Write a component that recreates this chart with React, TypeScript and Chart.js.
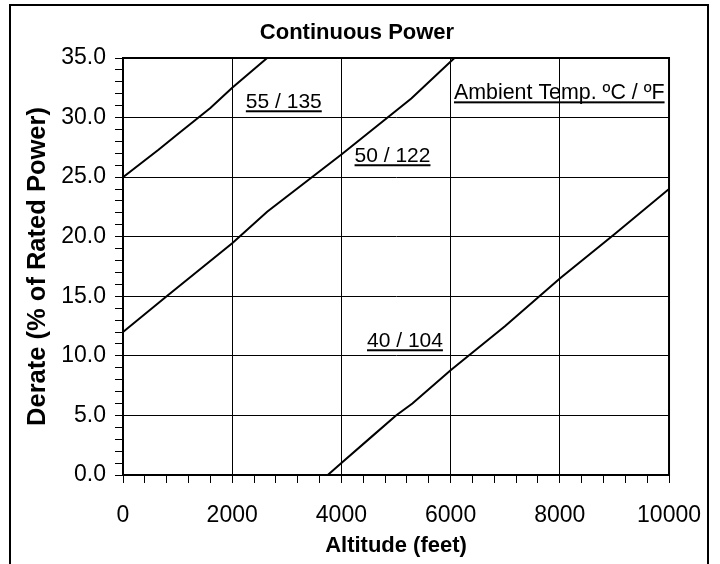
import React, { useEffect, useRef } from 'react';
import { Chart, registerables } from 'chart.js';

Chart.register(...registerables);

// ---- data ----
const CHART_TITLE = 'Continuous Power';
const X_TITLE = 'Altitude (feet)';
const Y_TITLE = 'Derate (% of Rated Power)';
const LEGEND_TITLE = 'Ambient Temp. ºC / ºF';

const SERIES_NAMES = ['55 / 135', '50 / 122', '40 / 104'];

const ALT_55 = [0, 650, 1000, 1600, 2000, 2640];
const DER_55 = [25.0, 27.3, 28.6, 30.8, 32.5, 35.0];

const ALT_50 = [0, 800, 2000, 2640, 4000, 5280, 6070];
const DER_50 = [12.0, 15.0, 19.45, 22.1, 26.9, 31.6, 35.0];

const ALT_40 = [3750, 4000, 4550, 5000, 5300, 6000, 7000, 8000, 9000, 10000];
const DER_40 = [0.0, 1.0, 3.2, 5.0, 6.0, 8.8, 12.5, 16.5, 20.2, 24.0];

// label anchors in data units (altitude, derate at text baseline)
const LABEL_ALT = [2945, 4936, 5164];
const LABEL_DER = [30.78, 26.25, 10.72];
const LEGEND_ALT = 7990;
const LEGEND_DER = 31.53;

const X_MIN = 0;
const X_MAX = 10000;
const X_MAJOR = 2000;
const X_MINOR = 400;
const Y_MIN = 0;
const Y_MAX = 35;
const Y_MAJOR = 5;
const Y_MINOR = 1;

const FONT = '"Liberation Sans", Arial, Helvetica, sans-serif';

function toPoints(xs: number[], ys: number[]) {
  return xs.map((x, i) => ({ x, y: ys[i] }));
}

const decorPlugin = {
  id: 'decor',
  beforeDraw(chart: any) {
    const ctx = chart.ctx;
    ctx.save();
    ctx.fillStyle = '#ffffff';
    ctx.fillRect(0, 0, chart.width, chart.height);
    ctx.restore();
  },
  afterDraw(chart: any) {
    const ctx = chart.ctx;
    const { left, right, top, bottom } = chart.chartArea;
    const xs = chart.scales.x;
    const ys = chart.scales.y;
    ctx.save();
    // plot frame
    ctx.strokeStyle = '#000';
    ctx.lineWidth = 2;
    ctx.strokeRect(left, top, right - left, bottom - top);
    // outer border
    ctx.lineWidth = 2;
    ctx.beginPath();
    ctx.moveTo(10, chart.height + 2);
    ctx.lineTo(10, 5);
    ctx.lineTo(708, 5);
    ctx.lineTo(708, chart.height + 2);
    ctx.stroke();
    // title
    ctx.fillStyle = '#000';
    ctx.textAlign = 'center';
    ctx.textBaseline = 'alphabetic';
    ctx.font = `bold 22px ${FONT}`;
    ctx.fillText(CHART_TITLE, 357, 39);
    // series labels
    ctx.font = `21px ${FONT}`;
    const drawUnderlined = (text: string, px: number, py: number) => {
      const w = ctx.measureText(text).width;
      ctx.fillText(text, px, py);
      ctx.fillRect(px - w / 2, py + 2, w, 2);
    };
    SERIES_NAMES.forEach((name, i) => {
      drawUnderlined(name, xs.getPixelForValue(LABEL_ALT[i]), ys.getPixelForValue(LABEL_DER[i]));
    });
    ctx.font = `21.4px ${FONT}`;
    drawUnderlined(LEGEND_TITLE, xs.getPixelForValue(LEGEND_ALT), ys.getPixelForValue(LEGEND_DER));
    ctx.restore();
  },
};

export default function App() {
  const ref = useRef<HTMLCanvasElement | null>(null);
  useEffect(() => {
    if (!ref.current) return;
    const lineDs = (label: string, xs: number[], ys: number[]) => ({
      label,
      data: toPoints(xs, ys),
      borderColor: '#000',
      backgroundColor: '#000',
      borderWidth: 2,
      pointRadius: 0,
      tension: 0,
      fill: false,
    });
    const chart = new Chart(ref.current, {
      type: 'line',
      data: {
        datasets: [
          lineDs(SERIES_NAMES[0], ALT_55, DER_55),
          lineDs(SERIES_NAMES[1], ALT_50, DER_50),
          lineDs(SERIES_NAMES[2], ALT_40, DER_40),
        ],
      },
      options: {
        animation: false,
        responsive: false,
        maintainAspectRatio: false,
        layout: { padding: { top: 58, right: 47, left: 0, bottom: 0 } },
        plugins: {
          legend: { display: false },
          tooltip: { enabled: false },
          title: { display: false },
        },
        scales: {
          x: {
            type: 'linear',
            min: X_MIN,
            max: X_MAX,
            ticks: {
              stepSize: X_MINOR,
              autoSkip: false,
              maxRotation: 0,
              color: '#000',
              padding: 19,
              font: { family: FONT, size: 23 },
              callback: (v: any) => (Number(v) % X_MAJOR === 0 ? String(v) : ''),
            },
            grid: {
              color: (c: any) =>
                c.tick && Math.round(c.tick.value) % X_MAJOR === 0 ? '#000' : 'rgba(0,0,0,0)',
              tickColor: '#000',
              tickLength: 8,
              lineWidth: 1,
            },
            border: { display: true, color: '#000', width: 2 },
            title: {
              display: true,
              text: X_TITLE,
              color: '#000',
              font: { family: FONT, size: 22, weight: 'bold' },
              padding: { top: 0, bottom: 5 },
            },
            afterFit: (s: any) => {
              s.height = 89;
            },
          },
          y: {
            type: 'linear',
            min: Y_MIN,
            max: Y_MAX,
            ticks: {
              stepSize: Y_MINOR,
              autoSkip: false,
              color: '#000',
              padding: 9,
              font: { family: FONT, size: 23 },
              callback: (v: any) => (Math.round(Number(v)) % Y_MAJOR === 0 ? Number(v).toFixed(1) : ''),
            },
            grid: {
              color: (c: any) =>
                c.tick && Math.round(c.tick.value) % Y_MAJOR === 0 ? '#000' : 'rgba(0,0,0,0)',
              tickColor: '#000',
              tickLength: 8,
              lineWidth: 1,
            },
            border: { display: true, color: '#000', width: 2 },
            title: {
              display: true,
              text: Y_TITLE,
              color: '#000',
              font: { family: FONT, size: 25.5, weight: 'bold' },
              padding: { top: 23, bottom: 0 },
            },
            afterFit: (s: any) => {
              s.width = 123;
            },
          },
        },
      } as any,
      plugins: [decorPlugin],
    });
    return () => chart.destroy();
  }, []);
  return (
    <div style={{ position: 'absolute', left: 0, top: 0, width: 720, height: 564 }}>
      <canvas ref={ref} width={720} height={564} style={{ display: 'block', width: 720, height: 564 }} />
    </div>
  );
}
